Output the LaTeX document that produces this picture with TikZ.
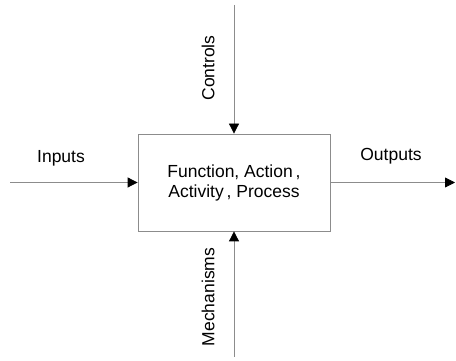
\documentclass[tikz,border=0pt]{standalone}
\usepackage{fontspec}
\setmainfont{Liberation Sans}
\usepackage{xcolor}
\usepackage{tikz}
\usetikzlibrary{arrows.meta}
\usetikzlibrary{positioning}
\definecolor{lineGray}{HTML}{8C8C8C}
\tikzset{idef-line/.style={line width=0.8pt, color=lineGray}}
\tikzset{>={Triangle[length=10pt, width=10pt, color=black]}}
\tikzset{func-box/.style={draw=lineGray, line width=0.8pt, minimum width=192pt, minimum height=97pt, inner sep=0, align=center}}
\tikzset{idef-label/.style={inner sep=0, font=\fontsize{17.5}{20}\selectfont}}

\begin{document}
\begin{tikzpicture}[x=1pt, y=1pt]
    \useasboundingbox (0,0) rectangle (456,361);
    \node[func-box, idef-label] (func) at (234,178.5) {Function, Action\,,\\Activity\,, Process};

    \coordinate (in-start) at (10,178.5);
    \coordinate (out-end) at (455,178.5);
    \coordinate (ctrl-start) at (234,356);
    \coordinate (mech-start) at (234,4);

    \draw[->, idef-line] (in-start) -- (func.west);
    \draw[->, idef-line] (func.east) -- (out-end);
    \draw[->, idef-line] (ctrl-start) -- (func.north);
    \draw[->, idef-line] (mech-start) -- (func.south);

    \node[idef-label] (inputs) at (61,203) {Inputs};
    \node[idef-label] (outputs) at (391,205) {Outputs};
    \node[idef-label, rotate=90] (controls) at (208,293) {Controls};
    \node[idef-label, rotate=90] (mechanisms) at (208,64) {Mechanisms};
\end{tikzpicture}
\end{document}
